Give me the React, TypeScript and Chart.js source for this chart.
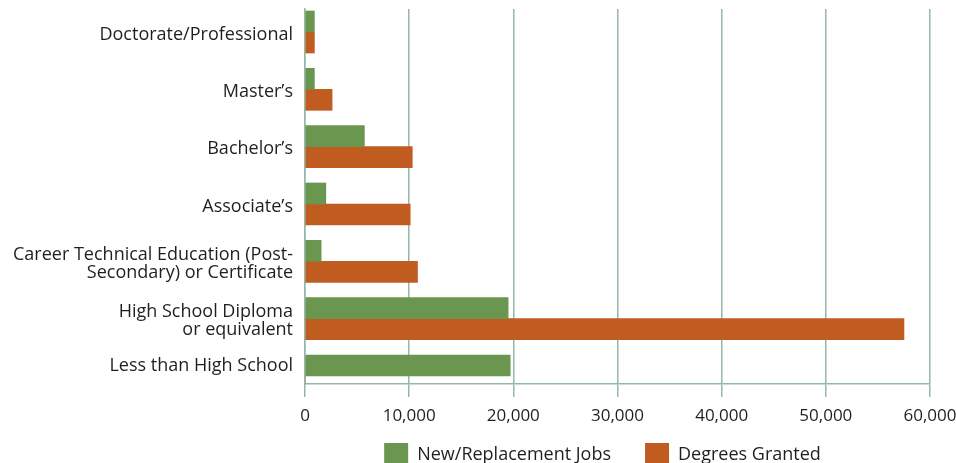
import { useEffect, useRef } from 'react';
import { Chart, registerables } from 'chart.js';

Chart.register(...registerables);

const categories: (string | string[])[] = [
  'Doctorate/Professional',
  'Master\u2019s',
  'Bachelor\u2019s',
  'Associate\u2019s',
  ['Career Technical Education (Post-', 'Secondary) or Certificate'],
  ['High School Diploma', 'or equivalent'],
  'Less than High School',
];

const newReplacementJobs = [900, 900, 5700, 2000, 1550, 19500, 19700];
const degreesGranted = [900, 2600, 10300, 10100, 10800, 57500, 0];

const seriesLabels = ['New/Replacement Jobs', 'Degrees Granted'];
const xTickMin = 0;
const xTickMax = 60000;
const xTickStep = 10000;

const GREEN = '#6a9650';
const ORANGE = '#c05c20';
const GRID = '#93b7ab';
const TEXT = '#1f1f1f';
const FONT = '"Open Sans", "Noto Sans", sans-serif';

const shiftLegend = {
  id: 'shiftLegend',
  afterLayout(chart: any) {
    const lg = chart.legend;
    if (lg) {
      lg.left -= 15;
      lg.right -= 15;
      lg.top -= 21;
      lg.bottom -= 21;
    }
  },
};

export default function App() {
  const ref = useRef<HTMLCanvasElement>(null);

  useEffect(() => {
    document.body.style.margin = '0';
    const canvas = ref.current;
    if (!canvas) return;
    const chart = new Chart(canvas, {
      type: 'bar',
      data: {
        labels: categories as any,
        datasets: [
          {
            label: seriesLabels[0],
            data: newReplacementJobs,
            backgroundColor: GREEN,
            borderWidth: 0,
            barThickness: 21,
          },
          {
            label: seriesLabels[1],
            data: degreesGranted,
            backgroundColor: ORANGE,
            borderWidth: 0,
            barThickness: 21,
          },
        ],
      },
      plugins: [shiftLegend],
      options: {
        indexAxis: 'y',
        responsive: false,
        animation: false,
        devicePixelRatio: 1,
        layout: { padding: { top: 9, right: 26, left: 0, bottom: 0 } },
        plugins: {
          tooltip: { enabled: false },
          legend: {
            position: 'bottom',
            fullSize: false,
            labels: {
              boxWidth: 24,
              boxHeight: 24,
              padding: 34,
              color: TEXT,
              font: { family: FONT, size: 18 },
            },
          },
        },
        scales: {
          x: {
            type: 'linear',
            min: xTickMin,
            max: xTickMax,
            ticks: {
              stepSize: xTickStep,
              color: TEXT,
              padding: 9,
              font: { family: FONT, size: 17 },
            },
            grid: {
              color: GRID,
              lineWidth: 1.5,
              drawTicks: true,
              tickLength: 13,
            },
            border: { display: true, color: GRID, width: 1.5 },
            afterFit: (s: any) => {
              s.height = 46;
              s.paddingLeft = 0;
              s.paddingRight = 0;
            },
          },
          y: {
            type: 'category',
            grid: { display: false, drawTicks: false },
            border: { display: true, color: GRID, width: 1.5 },
            ticks: {
              color: TEXT,
              padding: 12,
              labelOffset: 2.5,
              font: { family: FONT, size: 18, lineHeight: 1.0 },
              callback: (_v: any, i: number) => categories[i] as any,
            },
            afterBuildTicks: (s: any) => {
              s._startValue = -0.401;
              s._valueRange = 6.541;
              // the last label sits beside its single (green) bar in the original
              if (s.ticks[6]) s.ticks[6] = { value: 5.78 };
            },
            afterFit: (s: any) => {
              s.width = 305;
              s.paddingTop = 0;
              s.paddingBottom = 0;
            },
          },
        },
      },
    });
    return () => chart.destroy();
  }, []);

  return (
    <div style={{ width: 956, height: 463, overflow: 'hidden' }}>
      <canvas ref={ref} width={956} height={498} style={{ display: 'block' }} />
    </div>
  );
}
